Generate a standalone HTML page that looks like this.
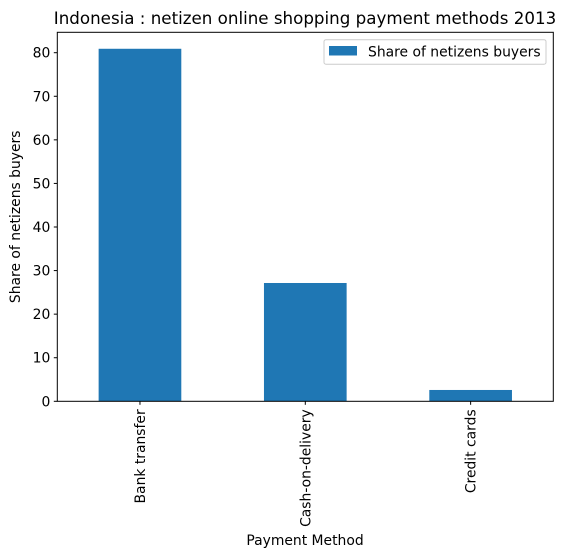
<!DOCTYPE html>
<html><head><meta charset="utf-8"><style>
body{margin:0;background:#fff;}
svg{display:block;font-family:"DejaVu Sans","Liberation Sans",sans-serif;}
</style></head><body>
<svg id="chart" width="564" height="558" viewBox="0 0 564 558">
<text x="305" y="24" text-anchor="middle" font-size="16.7" fill="#000">Indonesia : netizen online shopping payment methods 2013</text>
<g id="bars"></g>
<g id="yaxis"></g>
<g id="xaxis"></g>
<rect x="57.3" y="32.3" width="496" height="369" fill="none" stroke="#000" stroke-width="1"/>
<text transform="translate(20,216.8) rotate(-90)" text-anchor="middle" font-size="13.9">Share of netizens buyers</text>
<text x="305" y="545" text-anchor="middle" font-size="13.9">Payment Method</text>
<g>
<rect x="324" y="39.7" width="222" height="24.5" rx="2" fill="#fff" stroke="#ccc" stroke-width="1"/>
<rect x="329" y="46" width="28" height="9.5" fill="#1f77b4"/>
<text x="368" y="56.5" font-size="13.9">Share of netizens buyers</text>
</g>
</svg>
<script>
const categories = ["Bank transfer","Cash-on-delivery","Credit cards"];
const values = [80.9, 27.15, 2.6];
const yTicks = [0,10,20,30,40,50,60,70,80];
const NS="http://www.w3.org/2000/svg";
const L=57.3,R=553.3,T=32.3,B=401.3;
const yMax=(B-T)/((B-52.7)/80);
function y(v){return B-(v/yMax)*(B-T);}
const band=(R-L)/categories.length;
function xc(i){return L+band*(i+0.5);}
function mk(tag,attrs,parent){const e=document.createElementNS(NS,tag);for(const k in attrs)e.setAttribute(k,attrs[k]);parent.appendChild(e);return e;}
const bars=document.getElementById('bars'),ya=document.getElementById('yaxis'),xa=document.getElementById('xaxis');
values.forEach((v,i)=>{
 const w=band*0.5;
 const r=mk('rect',{x:xc(i)-w/2,y:y(v),width:w,height:B-y(v),fill:'#1f77b4'},bars);
 
 
});
yTicks.forEach(t=>{
 const ln=mk('line',{x1:L-3.5,x2:L,y1:y(t),y2:y(t),stroke:'#000'},ya);
 
 
 const tx=mk('text',{x:L-7,y:y(t)+5,'text-anchor':'end','font-size':'13.9'},ya);
 tx.textContent=t;
 
 
});
categories.forEach((c,i)=>{
 const ln=mk('line',{x1:xc(i),x2:xc(i),y1:B,y2:B+3.5,stroke:'#000'},xa);
 
 
 const tx=mk('text',{transform:`translate(${xc(i)+5},${B+8}) rotate(-90)`,'text-anchor':'end','font-size':'13.9'},xa);
 tx.textContent=c;
 
 
});
</script>
</body></html>
